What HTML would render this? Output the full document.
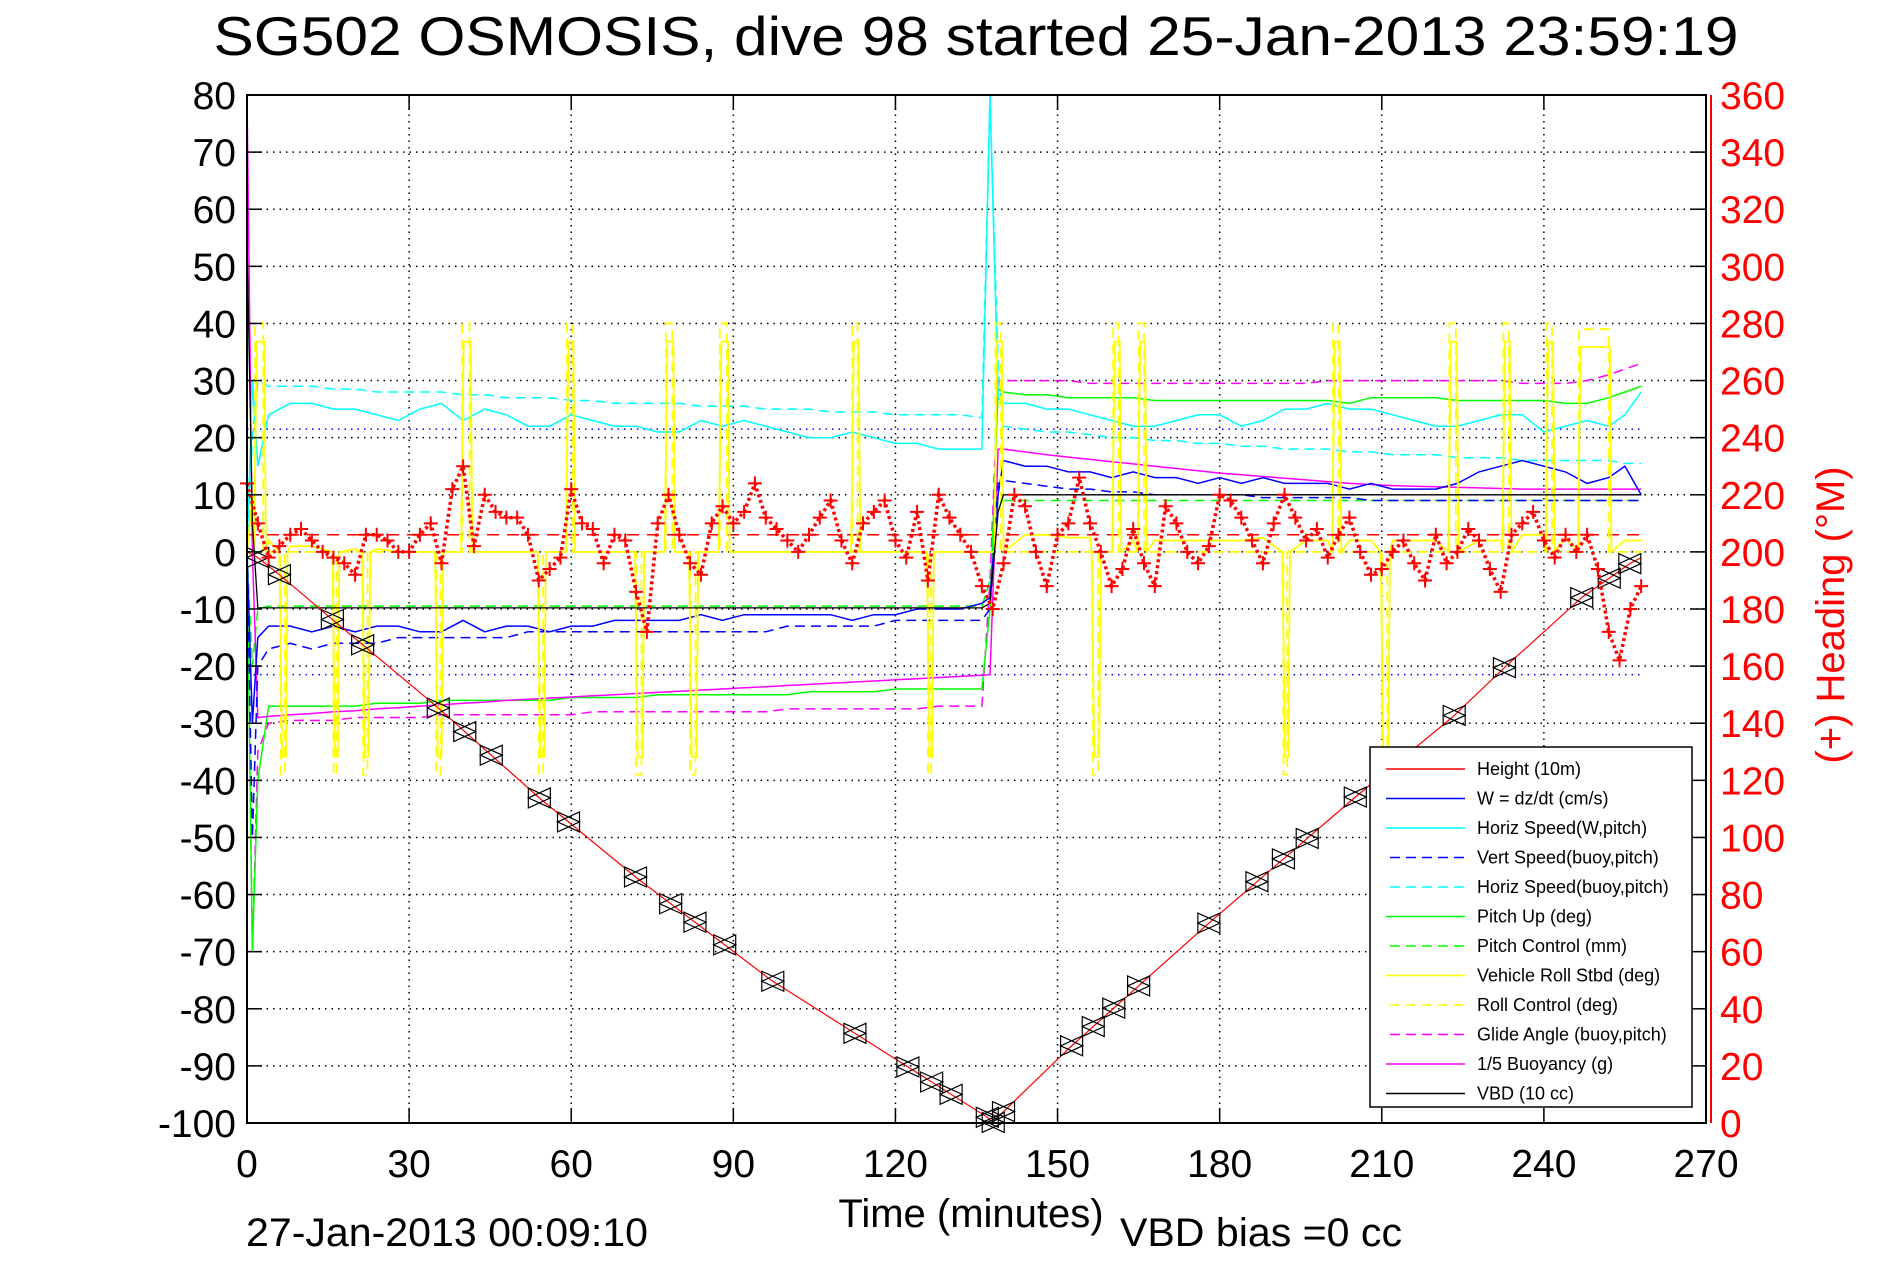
<!DOCTYPE html>
<html><head><meta charset="utf-8"><style>
html,body{margin:0;padding:0;background:#fff;}
svg{display:block;font-family:"Liberation Sans",Arial,sans-serif;}
</style></head><body>
<svg id="chart" width="1891" height="1262" viewBox="0 0 1891 1262" xmlns="http://www.w3.org/2000/svg">
<rect width="1891" height="1262" fill="#fff"/>
<text x="976" y="55" font-size="55" text-anchor="middle" textLength="1525" lengthAdjust="spacingAndGlyphs">SG502 OSMOSIS, dive 98 started 25-Jan-2013 23:59:19</text>
<g id="grid"></g>
<g id="series"></g>
<g id="axes"></g>
<text x="971" y="1227" font-size="40" text-anchor="middle">Time (minutes)</text>
<text x="1120" y="1246" font-size="40" textLength="282" lengthAdjust="spacingAndGlyphs">VBD bias =0 cc</text>
<text x="246" y="1246" font-size="40" textLength="402" lengthAdjust="spacingAndGlyphs">27-Jan-2013 00:09:10</text>
<text transform="translate(1844,615) rotate(-90)" font-size="40" fill="#f00" text-anchor="middle">(+) Heading (°M)</text>
<g id="legend"></g>
</svg>
<script>
// ---- data ----
const xTicks=[0,30,60,90,120,150,180,210,240,270];
const yTicks=[80,70,60,50,40,30,20,10,0,-10,-20,-30,-40,-50,-60,-70,-80,-90,-100];
const hTicks=[360,340,320,300,280,260,240,220,200,180,160,140,120,100,80,60,40,20,0];
const hgtT=[0,2,6,16,35,54,72,97,122,137,138,140,152,165,178,205,223,233,247,256,258];
const hgtV=[0,-1,-4,-12,-27,-43,-57,-75,-90,-99,-100,-98,-87,-76,-65,-43,-29,-20,-8,-2,-1];
const markT=[2,6,15.8,21.4,35.4,40.3,45.2,54.1,59.5,71.9,78.4,82.9,88.4,97.3,112.5,122.3,126.7,130.3,137,138.1,140,152.6,156.6,160.4,165,178,186.9,191.8,196.2,205.1,223.4,232.7,247,252.1,255.9];
const gridT=[0,1,2,4,8,12,16,20,24,28,
 32,36,40,44,48,52,56,60,64,68,
 72,76,80,84,88,92,96,100,104,108,
 112,116,120,124,128,132,136,137.5,139,140,
 144,148,152,156,160,164,168,172,176,180,
 184,188,192,196,200,204,208,212,216,220,
 224,228,232,236,240,244,248,252,255,258];
const wSpeed=[0,-30,-15,-13,-13,-14,-13,-14,-13,-13,
 -14,-14,-12,-14,-13,-13,-14,-13,-13,-12,
 -12,-12,-12,-11,-12,-11,-11,-11,-11,-11,
 -12,-11,-11,-10,-10,-10,-9,-8,10,16,
 15,15,14,14,13,14,13,13,12,13,
 12,13,12,12,12,11,12,11,11,11,
 12,14,15,16,15,14,12,13,15,10];
const vertBuoy=[0,-50,-20,-17,-16,-17,-16,-16,-16,-15,
 -15,-15,-15,-15,-15,-14,-14,-14,-14,-14,
 -14,-14,-14,-14,-14,-14,-14,-13,-13,-13,
 -13,-13,-12,-12,-12,-12,-12,-10,12,12.5,
 12,11.5,11,11,10.5,10.5,10,10,10,10,
 10,9.5,9.5,9.5,9.5,9.5,9,9,9,9,
 9,9,9,9,9,9,9,9,9,9];
const horizW=[0,30,15,24,26,26,25,25,24,23,
 25,26,23,25,24,22,22,24,23,22,
 22,21,21,23,22,23,22,21,20,20,
 21,20,19,19,18,18,18,80,27,26,
 26,25,25,24,23,22,22,23,24,24,
 22,23,25,25,26,25,25,24,23,22,
 22,23,24,24,21,22,23,22,24,28];
const horizBuoy=[0,20,30,29,29,29,28.5,28.5,28,28,
 28,28,27.5,27.5,27,27,27,26.5,26.5,26,
 26,26,26,25.5,25.5,25.5,25,25,25,24.5,
 24.5,24.5,24,24,24,24,23.5,80,33,22,
 21.5,21,21,20.5,20,20,19.5,19.5,19,19,
 18.5,18.5,18,18,18,17.5,17.5,17,17,17,
 16.5,16.5,16.5,16,16,16,16,16,15.5,15.5];
const pitchUp=[0,-70,-40,-27,-27,-27,-27,-27,-26.5,-26.5,
 -26.5,-26,-26,-26,-26,-26,-26,-25.5,-25.5,-25.5,
 -25.5,-25,-25,-25,-25,-25,-25,-25,-24.5,-24.5,
 -24.5,-24.5,-24,-24,-24,-24,-24,-10,28.5,28,
 27.5,27.5,27,27,27,27,26.5,26.5,26.5,26.5,
 26.5,26.5,26.5,26.5,26.5,26,27,27,27,27,
 26.5,26.5,26.5,26.5,26.5,26,26,27,28,29];
const pitchCtrl=[0,-20,-10,-9.5,-9.5,-9.5,-9.5,-9.5,-9.5,-9.5,
 -9.5,-9.5,-9.5,-9.5,-9.5,-9.5,-9.5,-9.5,-9.5,-9.5,
 -9.5,-9.5,-9.5,-9.5,-9.5,-9.5,-9.5,-9.5,-9.5,-9.5,
 -9.5,-9.5,-9.5,-9.5,-9.5,-9.5,-9.5,-5,9,9,
 9,9,9,9,9,9,9,9,9,9,
 9,9,9,9,9,9,9,9,9,9,
 9,9,9,9,9,9,9,9,9,9];
const glideAngle=[0,-70,-35,-30,-29.5,-29.5,-29.5,-29,-29,-29,
 -29,-28.5,-28.5,-28.5,-28.5,-28.5,-28.5,-28.5,-28,-28,
 -28,-28,-28,-28,-28,-28,-28,-27.5,-27.5,-27.5,
 -27.5,-27.5,-27.5,-27.5,-27,-27,-27,-5,30,30,
 30,30,30,29.5,29.5,29.5,29.5,29.5,29.5,29.5,
 29.5,29.5,29.5,29.5,30,30,30,30,30,30,
 30,30,30,29.5,29.5,29.5,30,31,32,33];
const buoyancy=[80,0,-29,-28.8,-28.5,-28.3,-28,-27.8,-27.5,-27.3,
 -27,-26.8,-26.5,-26.3,-26,-25.8,-25.6,-25.4,-25.2,-25,
 -24.8,-24.6,-24.4,-24.2,-24,-23.8,-23.6,-23.4,-23.2,-23,
 -22.8,-22.6,-22.4,-22.2,-22,-21.8,-21.6,-21.5,18,18,
 17.5,17,16.6,16.2,15.8,15.4,15,14.6,14.2,13.8,
 13.5,13.2,12.9,12.6,12.3,12,11.8,11.6,11.5,11.4,
 11.3,11.2,11.1,11,11,11,11,11,11,11];
const vbd=[55,5,-9.8,-9.8,-9.8,-9.8,-9.8,-9.8,-9.8,-9.8,
 -9.8,-9.8,-9.8,-9.8,-9.8,-9.8,-9.8,-9.8,-9.8,-9.8,
 -9.8,-9.8,-9.8,-9.8,-9.8,-9.8,-9.8,-9.8,-9.8,-9.8,
 -9.8,-9.8,-9.8,-9.8,-9.8,-9.8,-9.8,-9,7,10,
 10,10,10,10,10,10,10,10,10,10,
 10,10,10,10,10,10,10,10,10,10,
 10,10,10,10,10,10,10,10,10,10];
const vehRoll=[0,10,4,2,1,1,0.5,0.5,0.5,0,
 0,0.5,0.5,0,0,0,0,0,0,0,
 0,0,0,0,0,0,0,0,0,0,
 0,0,0,0,0,0,0,0,2,3,
 3,3,2.5,2.5,2,2,2,2,2,2,
 2,2.5,2.5,2,2,2,2,2,2,2,
 2,2,2,3,3,2.5,2.5,2,2,2];
const rollStart=[1.5,6.2,16,21.5,35,39.8,54,59.2,72,77.5,82,87.5,112,126,138.5,156.5,160.3,165,191.8,201,210,222.5,232.5,240.5,246.5];
const rollEnd=[3,7,16.6,22.3,35.8,41.2,54.8,60.2,73,78.7,83,88.8,113,126.6,139.5,157.5,161.3,166,192.5,202,211,223.7,233.5,241.5,252];
const rollVal=[40,-39,-39,-39,-39,40,-39,40,-39,40,-39,40,40,-39,40,-39,40,40,-39,40,-39,40,40,40,39];
const hdgT0=0, hdgStep=2;
const heading=[224,210,198,202,206,208,204,200,198,196,
 192,206,206,204,200,200,206,210,196,222,
 230,202,220,214,212,212,206,190,194,198,
 222,210,208,196,206,204,186,172,210,220,
 206,196,192,210,216,210,214,224,212,208,
 204,200,206,212,218,204,196,210,214,218,
 204,198,214,190,220,212,206,200,188,180,
 196,220,216,200,188,206,210,226,210,200,
 188,194,208,196,188,216,210,200,196,202,
 220,218,212,204,196,210,220,212,204,208,
 198,206,212,200,192,194,200,204,196,190,
 206,196,200,208,204,194,186,206,210,214,
 204,198,206,200,206,194,172,162,180,188];
const headingRef=206;

const L=247,R=1706,T=95,B=1123;
const X=t=>L+(t-0)/270*(R-L);
const Y=v=>B-(v+100)/180*(B-T);
const YH=h=>B-h/360*(B-T);
const NS='http://www.w3.org/2000/svg';
function mk(tag,attrs,parent){const e=document.createElementNS(NS,tag);for(const k in attrs)e.setAttribute(k,attrs[k]);parent.appendChild(e);return e;}
const grid=document.getElementById('grid'),ser=document.getElementById('series'),ax=document.getElementById('axes'),leg=document.getElementById('legend');

xTicks.forEach(t=>{
  if(t>0&&t<270){const g=mk('line',{x1:X(t),x2:X(t),y1:T,y2:B,stroke:'#000','stroke-width':1.5,'stroke-dasharray':'1.5 5'},grid);
  
  }
  const a=mk('line',{x1:X(t),x2:X(t),y1:B,y2:B-15,stroke:'#000','stroke-width':1.5},ax);
  
  
  const b=mk('line',{x1:X(t),x2:X(t),y1:T,y2:T+15,stroke:'#000','stroke-width':1.5},ax);
  
  
  const tx=mk('text',{x:X(t),y:1177,'font-size':39,'text-anchor':'middle'},ax);tx.textContent=t;
  
  
});
yTicks.forEach(v=>{
  if(v<80&&v>-100){const g=mk('line',{x1:L,x2:R,y1:Y(v),y2:Y(v),stroke:'#000','stroke-width':1.5,'stroke-dasharray':'1.5 5'},grid);
  
  }
  const a=mk('line',{x1:L,x2:L+15,y1:Y(v),y2:Y(v),stroke:'#000','stroke-width':1.5},ax);
  
  
  const tx=mk('text',{x:236,y:Y(v)+14,'font-size':39,'text-anchor':'end'},ax);tx.textContent=v;
  
  
});
hTicks.forEach(h=>{
  const a=mk('line',{x1:R-15,x2:R,y1:YH(h),y2:YH(h),stroke:'#000','stroke-width':1.5},ax);
  
  
  const tx=mk('text',{x:1720,y:YH(h)+14,'font-size':39,fill:'#f00'},ax);tx.textContent=h;
  
  
});
const box=mk('rect',{x:L,y:T,width:R-L,height:B-T,fill:'none',stroke:'#000','stroke-width':2},ax);


const ra=mk('line',{x1:R+5,x2:R+5,y1:T,y2:B,stroke:'#f00','stroke-width':2},ax);



function linePath(ts,vs,yf){let d='';const n=Math.min(ts.length,vs.length);for(let i=0;i<n;i++){d+=(i?'L':'M')+X(ts[i]).toFixed(1)+' '+yf(vs[i]).toFixed(1);}return d;}
function addLine(name,ts,vs,color,dash,w,yf){
  const p=mk('path',{d:linePath(ts,vs,yf||Y),fill:'none',stroke:color,'stroke-width':w||1.3},ser);
  if(dash)p.setAttribute('stroke-dasharray',dash);
  
  
  return p;
}
const bd1=mk('line',{x1:X(0),x2:X(258),y1:Y(21.5),y2:Y(21.5),stroke:'#00f','stroke-width':1.5,'stroke-dasharray':'1.5 5'},ser);


const bd2=mk('line',{x1:X(0),x2:X(258),y1:Y(-21.5),y2:Y(-21.5),stroke:'#00f','stroke-width':1.5,'stroke-dasharray':'1.5 5'},ser);


const hr=mk('line',{x1:X(0),x2:X(259),y1:YH(headingRef),y2:YH(headingRef),stroke:'#f00','stroke-width':1.5,'stroke-dasharray':'12 8'},ser);



// roll control step series
let rcT=[0],rcV=[0];
rollStart.forEach((s,i)=>{rcT.push(s,s,rollEnd[i],rollEnd[i]);rcV.push(0,rollVal[i],rollVal[i],0);});
rcT.push(258);rcV.push(0);
// vehicle roll: baseline from grid, with pulses as steps (grid points inside pulses skipped)
let rT=[],rV=[];
{const pts=[];
 gridT.forEach((t,i)=>{const inside=rollStart.some((s,j)=>t>=s-0.3&&t<=rollEnd[j]+0.6);if(!inside)pts.push([t,vehRoll[i]]);});
 rollStart.forEach((s,i)=>{const e=rollEnd[i];const b0=vehRoll[0]*0;pts.push([s-0.2,b0]);pts.push([s+0.3,rollVal[i]*0.92]);pts.push([e+0.2,rollVal[i]*0.92]);pts.push([e+0.5,b0]);});
 pts.sort((a,b)=>a[0]-b[0]);pts.forEach(p=>{rT.push(p[0]);rV.push(p[1]);});}

addLine('pitch-control-line',gridT,pitchCtrl,'#0f0','10 6',1.5);
addLine('glide-angle-line',gridT,glideAngle,'#f0f','10 6',1.5);
addLine('pitch-up-line',gridT,pitchUp,'#0f0',null,1.5);
addLine('buoyancy-line',gridT,buoyancy,'#f0f',null,1.5);
addLine('horiz-speed-buoy-line',gridT,horizBuoy,'#0ff','10 6',1.5);
addLine('horiz-speed-w-line',gridT,horizW,'#0ff',null,1.5);
addLine('vert-speed-buoy-line',gridT,vertBuoy,'#00f','10 6',1.5);
addLine('w-speed-line',gridT,wSpeed,'#00f',null,1.5);
addLine('roll-control-line',rcT,rcV,'#ff0','10 6',1.8);
addLine('vehicle-roll-line',rT,rV,'#ff0',null,1.8);
addLine('vbd-line',gridT,vbd,'#000',null,1.3);
addLine('height-line',hgtT,hgtV,'#f00',null,1.2);

function interp(ts,vs,t){for(let i=1;i<ts.length;i++){if(t<=ts[i]){const f=(t-ts[i-1])/(ts[i]-ts[i-1]);return vs[i-1]+f*(vs[i]-vs[i-1]);}}return vs[vs.length-1];}
markT.forEach(t=>{
  const x=X(t),y=Y(interp(hgtT,hgtV,t));
  const p=mk('path',{d:`M${x-11} ${y-10}L${x-11} ${y+10}L${x+11} ${y}Z M${x+11} ${y-10}L${x+11} ${y+10}L${x-11} ${y}Z`,fill:'none',stroke:'#000','stroke-width':1.2},ser);
  
  
});
// heading trace (connecting the samples to mimic dense markers)
{let d='';heading.forEach((h,i)=>{d+=(i?'L':'M')+X(hdgT0+i*hdgStep).toFixed(1)+' '+YH(h).toFixed(1);});
 const p=mk('path',{d:d,fill:'none',stroke:'#f00','stroke-width':3.5,'stroke-dasharray':'3 3'},ser);
 
 }
heading.forEach((h,i)=>{
  const x=X(hdgT0+i*hdgStep),y=YH(h);
  const p=mk('path',{d:`M${x-7} ${y}H${x+7}M${x} ${y-7}V${y+7}`,stroke:'#f00','stroke-width':2},ser);
  
  
});

const lb=mk('rect',{x:1370,y:747,width:322,height:360,fill:'#fff',stroke:'#000','stroke-width':1.5},leg);


const legItems=[['Height (10m)','#f00',null],['W = dz/dt (cm/s)','#00f',null],['Horiz Speed(W,pitch)','#0ff',null],['Vert Speed(buoy,pitch)','#00f','10 6'],['Horiz Speed(buoy,pitch)','#0ff','10 6'],['Pitch Up (deg)','#0f0',null],['Pitch Control (mm)','#0f0','10 6'],['Vehicle Roll Stbd (deg)','#ff0',null],['Roll Control (deg)','#ff0','10 6'],['Glide Angle (buoy,pitch)','#f0f','10 6'],['1/5 Buoyancy (g)','#f0f',null],['VBD (10 cc)','#000',null]];
legItems.forEach((it,i)=>{
  const y=769+i*29.5;
  const l=mk('line',{x1:it[2]?1390:1386,x2:1465,y1:y,y2:y,stroke:it[1],'stroke-width':1.5},leg);
  if(it[2])l.setAttribute('stroke-dasharray',it[2]);
  
  
  const tx=mk('text',{x:1477,y:y+6,'font-size':18},leg);tx.textContent=it[0];
  
  
});
</script>
</body></html>
